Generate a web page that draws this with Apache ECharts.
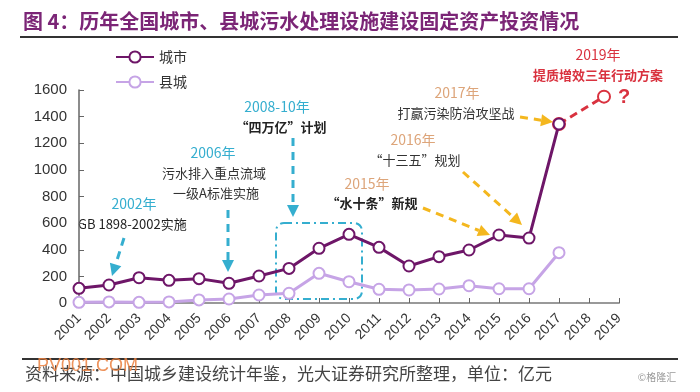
<!DOCTYPE html>
<html><head><meta charset="utf-8">
<script src="https://cdn.jsdelivr.net/npm/echarts@6/dist/echarts.min.js"></script>
<style>html,body{margin:0;padding:0;background:#fff}#c{width:700px;height:392px}</style>
</head><body><div id="c"></div>
<script>
var years = ['2001','2002','2003','2004','2005','2006','2007','2008','2009','2010','2011','2012','2013','2014','2015','2016','2017','2018','2019'];
var cityValues = [110,135,190,170,183,148,203,260,411,516,418,278,348,398,511,488,1345,null,null];
var countyValues = [5,8,5,8,23,30,60,73,223,160,103,98,105,130,107,107,378,null,null];
var projX = [16,17.5];
var projValues = [1345,1550];
var yTicks = {min:0,max:1600,interval:200};

var CJK = '"Noto Sans CJK SC", sans-serif';
var LAT = '"Liberation Sans", Arial, sans-serif';
var cyan = '#35AECF', yellow = '#F4B71E', tan = '#DDA57A', red = '#D9323F';

function arrow(x1,y1,x2,y2,color,dash){
  var dx=x2-x1, dy=y2-y1, L=Math.sqrt(dx*dx+dy*dy), ux=dx/L, uy=dy/L;
  var hl=12, hw=6;
  var bx=x2-ux*hl, by=y2-uy*hl;
  return [
    {type:'line',shape:{x1:x1,y1:y1,x2:bx,y2:by},style:{stroke:color,lineWidth:3,lineDash:dash||[8,6]}},
    {type:'polygon',shape:{points:[[x2,y2],[bx-uy*hw,by+ux*hw],[bx+uy*hw,by-ux*hw]]},style:{fill:color}}
  ];
}
function txt(x,y,s,color,size,bold,align,fam){
  return {type:'text',x:x,y:y,style:{text:s,fill:color,font:(bold?'bold ':'')+size+'px '+(fam||CJK),textAlign:align||'center',textVerticalAlign:'middle'}};
}

var g = [];
g.push(txt(23,21,'图 4：历年全国城市、县城污水处理设施建设固定资产投资情况','#7B2576',20,true,'left'));
g.push({type:'line',shape:{x1:20,y1:37,x2:678,y2:37},style:{stroke:'#333',lineWidth:2}});
g.push({type:'line',shape:{x1:22,y1:359,x2:678,y2:359},style:{stroke:'#333',lineWidth:2}});
g.push(txt(25,374,'资料来源：中国城乡建设统计年鉴，光大证券研究所整理，单位：亿元','#444',17,false,'left'));
g.push(txt(37,366,'PV001.COM','rgba(234,128,64,0.85)',18,false,'left',LAT));
g.push(txt(657,377,'©格隆汇','#9a9a9a',10,false,'center'));

// 2002
g.push(txt(134,204,'2002年',cyan,14));
g.push(txt(78,224,'GB 1898-2002实施','#222',13,false,'left'));
g = g.concat(arrow(124,238,112,276,cyan));
// 2006
g.push(txt(213,153,'2006年',cyan,14));
g.push(txt(214,173,'污水排入重点流域','#333',13));
g.push(txt(216,193,'一级A标准实施','#333',13));
g = g.concat(arrow(228,210,228,272,cyan));
// 2008-10
g.push(txt(277,107,'2008-10年',cyan,14));
g.push(txt(281,127,'“四万亿”计划','#222',13,true));
g = g.concat(arrow(293,138,293,217,cyan));
g.push({type:'rect',shape:{x:276,y:223,width:86,height:76,r:8},style:{fill:'none',stroke:cyan,lineWidth:2,lineDash:[8,4,2,4]}});
// 2015
g.push(txt(367,184,'2015年',tan,14));
g.push(txt(372,203,'“水十条”新规','#222',13,true));
g = g.concat(arrow(423,208,490,235,yellow));
// 2016
g.push(txt(413,140,'2016年',tan,14));
g.push(txt(415,160,'“十三五”规划','#333',13));
g = g.concat(arrow(463,172,522,225,yellow));
// 2017
g.push(txt(457,93,'2017年',tan,14));
g.push(txt(456,113,'打赢污染防治攻坚战','#333',13));
g = g.concat(arrow(520,117,553,122,yellow));
// 2019
g.push(txt(598,55,'2019年',red,14));
g.push(txt(598,75,'提质增效三年行动方案',red,13,true));
g.push(txt(624,97,'?',red,20,true,'center',LAT));

var chart = echarts.init(document.getElementById('c'));
chart.setOption({
  animation:false,
  grid:{left:79,right:81,top:90,bottom:89,containLabel:false},
  legend:{data:['城市','县城'],orient:'vertical',left:110,top:45,itemWidth:38,itemHeight:14,itemGap:11,
    textStyle:{fontFamily:CJK,fontSize:14,color:'#333'}},
  xAxis:[{type:'category',data:years,boundaryGap:false,
    axisLine:{lineStyle:{color:'#999',width:2}},
    axisTick:{inside:true,length:5,lineStyle:{color:'#666'}},
    axisLabel:{rotate:45,fontFamily:LAT,fontSize:14,color:'#333',margin:13,interval:0}},
    {type:'value',min:0,max:18,show:false}],
  yAxis:{type:'value',min:yTicks.min,max:yTicks.max,interval:yTicks.interval,
    axisLine:{show:true,lineStyle:{color:'#666',width:1.5}},
    axisTick:{show:true,inside:true,length:5,lineStyle:{color:'#666'}},
    splitLine:{show:false},
    axisLabel:{fontFamily:LAT,fontSize:15,color:'#333',margin:12,formatter:function(v){return String(v);}}},
  series:[
    {name:'红线',type:'line',xAxisIndex:1,data:projX.map(function(x,i){return [x,projValues[i]];}),
      lineStyle:{color:red,width:3,type:[8,5]},symbol:'emptyCircle',symbolSize:12,
      itemStyle:{color:red,borderWidth:2.5},z:1,
      showSymbol:true},
    {name:'县城',type:'line',data:countyValues,color:'#C6A4E6',
      lineStyle:{width:3,color:'#C6A4E6'},symbol:'emptyCircle',symbolSize:11,
      itemStyle:{color:'#C6A4E6',borderWidth:2.5},z:2},
    {name:'城市',type:'line',data:cityValues,color:'#6E1668',
      lineStyle:{width:3,color:'#6E1668'},symbol:'emptyCircle',symbolSize:11,
      itemStyle:{color:'#6E1668',borderWidth:2.5},z:3}
  ],
  graphic:g
});
</script></body></html>
